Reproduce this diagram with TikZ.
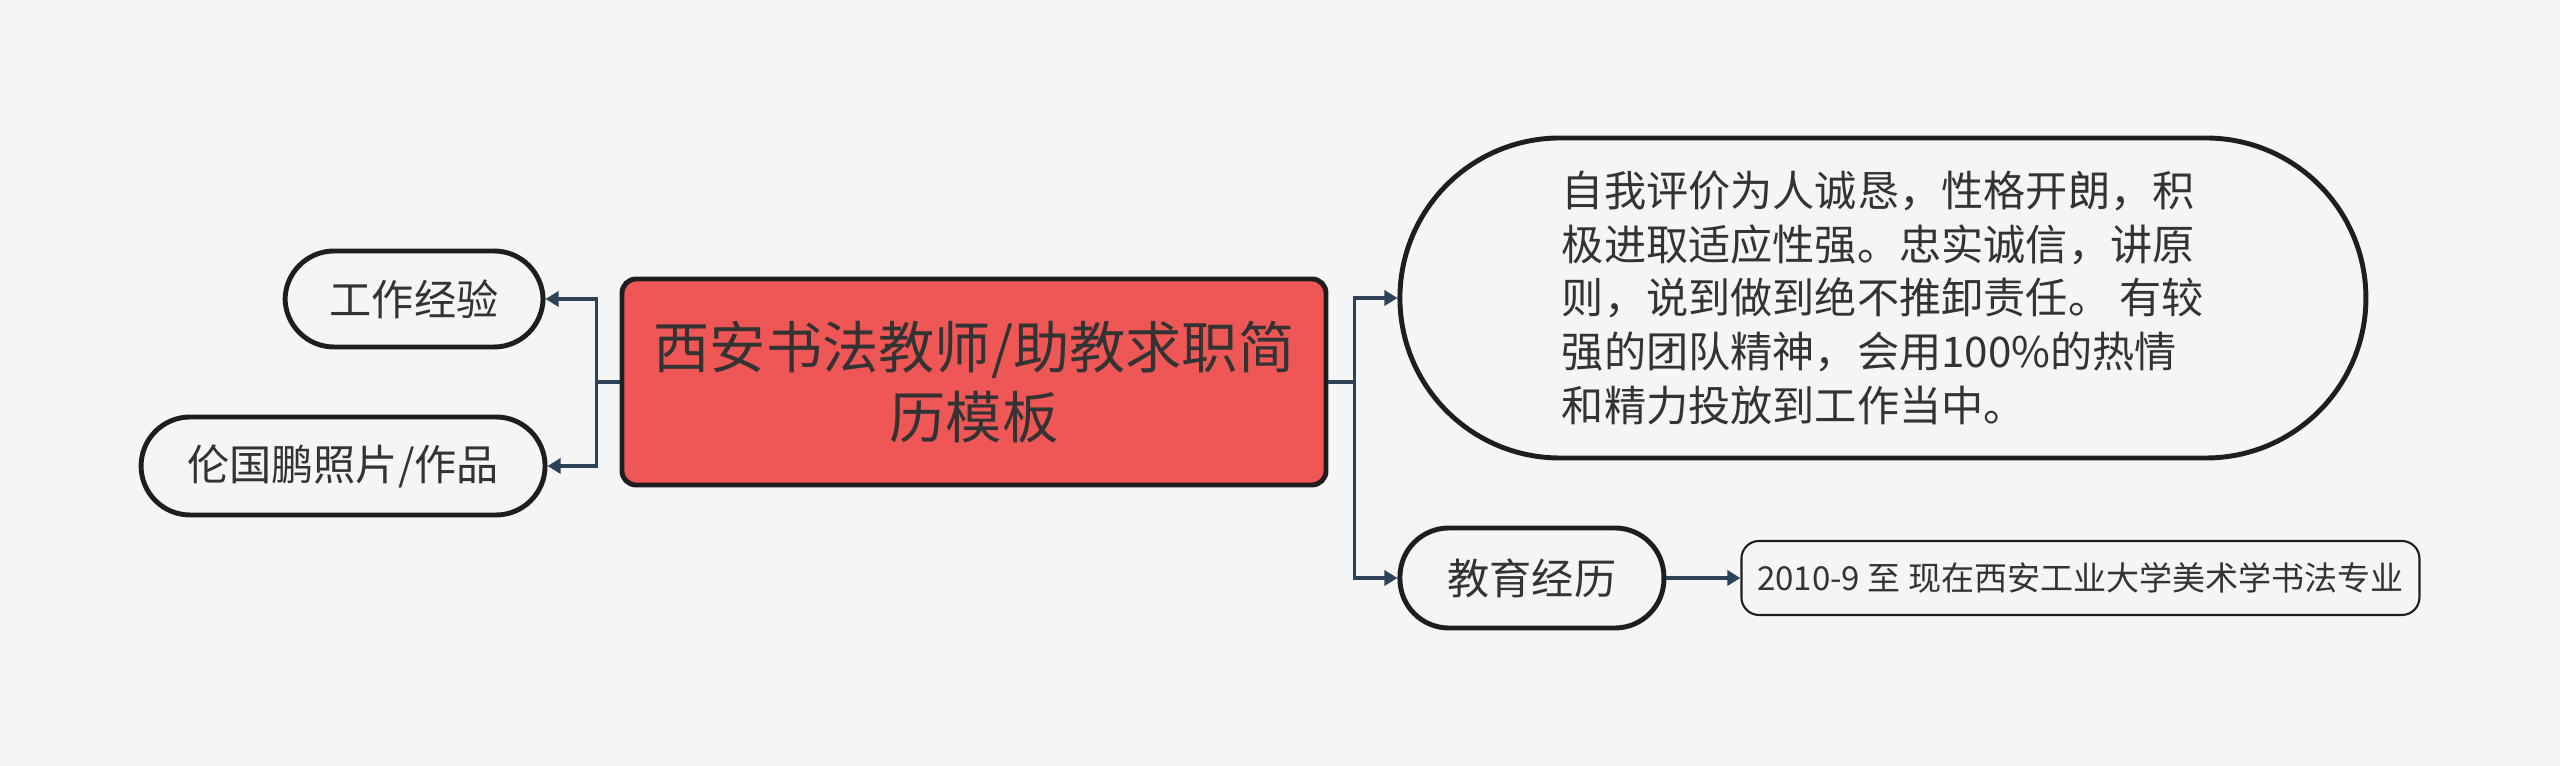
\documentclass[tikz,border=0pt]{standalone}
\usepackage{fontspec}
\setmainfont{Noto Sans CJK SC}
\usepackage{tikz}
\usetikzlibrary{arrows.meta,positioning}
\definecolor{paper}{HTML}{F5F5F5}
\definecolor{ink}{HTML}{333333}
\definecolor{rim}{HTML}{1E1E1E}
\definecolor{rootred}{HTML}{EF5656}
\definecolor{link}{HTML}{2E4257}

\begin{document}
\begin{tikzpicture}[
  font=\fontsize{12pt}{15.3pt}\selectfont,
  text=ink,
  root/.style={draw=rim,line width=1.4pt,rounded corners=4pt,fill=rootred,align=center,inner sep=0pt,
    minimum width=7.04cm,minimum height=2.06cm,font=\fontsize{16pt}{20pt}\selectfont},
  pill/.style={draw=rim,line width=1.4pt,rounded corners=0.49cm,fill=paper,align=center,inner sep=0pt},
  leaf/.style={draw=rim,line width=0.6pt,rounded corners=5pt,fill=paper,align=center,inner sep=0pt,
    font=\fontsize{9.4pt}{11pt}\selectfont},
  fl/.style={-{Triangle[length=1.3mm,width=1.5mm]},link,line width=1pt},
]
\fill[paper] (0,0) rectangle (25.6,-7.66);
\useasboundingbox (0,0) rectangle (25.6,-7.66);
\node[root] (main) at (9.74,-3.82) {西安书法教师/助教求职简\\历模板};
\node[pill,minimum width=2.58cm,minimum height=0.96cm,left=0.74cm of main,yshift=0.83cm] (work) {工作经验};
\node[pill,minimum width=4.04cm,minimum height=0.98cm,left=0.72cm of main,yshift=-0.84cm] (photo) {伦国鹏照片/作品};
\node[pill,minimum width=9.66cm,minimum height=3.20cm,rounded corners=1.6cm,right=0.69cm of main,yshift=0.84cm,
  align=left] (self) {自我评价为人诚恳，性格开朗，积\\极进取适应性强。忠实诚信，讲原\\则，说到做到绝不推卸责任。 有较\\强的团队精神，会用100\%的热情\\和精力投放到工作当中。};
\node[pill,minimum width=2.64cm,minimum height=1.00cm,right=0.69cm of main,yshift=-1.96cm] (edu) {教育经历};
\node[leaf,minimum width=6.78cm,minimum height=0.74cm,right=0.74cm of edu] (degree) {2010-9 至 现在西安工业大学美术学书法专业};
% trunks
\coordinate (lj) at ([xshift=-0.23cm]main.west);
\coordinate (rj) at ([xshift=0.26cm]main.east);
\draw[link,line width=1pt] (main.west) -- (lj);
\draw[link,line width=1pt] (main.east) -- (rj);
\foreach \n in {work,photo} \draw[fl] (lj) |- (\n.east);
\foreach \n in {self,edu} \draw[fl] (rj) |- (\n.west);
\draw[fl] (edu.east) -- (degree.west);
\end{tikzpicture}
\end{document}
